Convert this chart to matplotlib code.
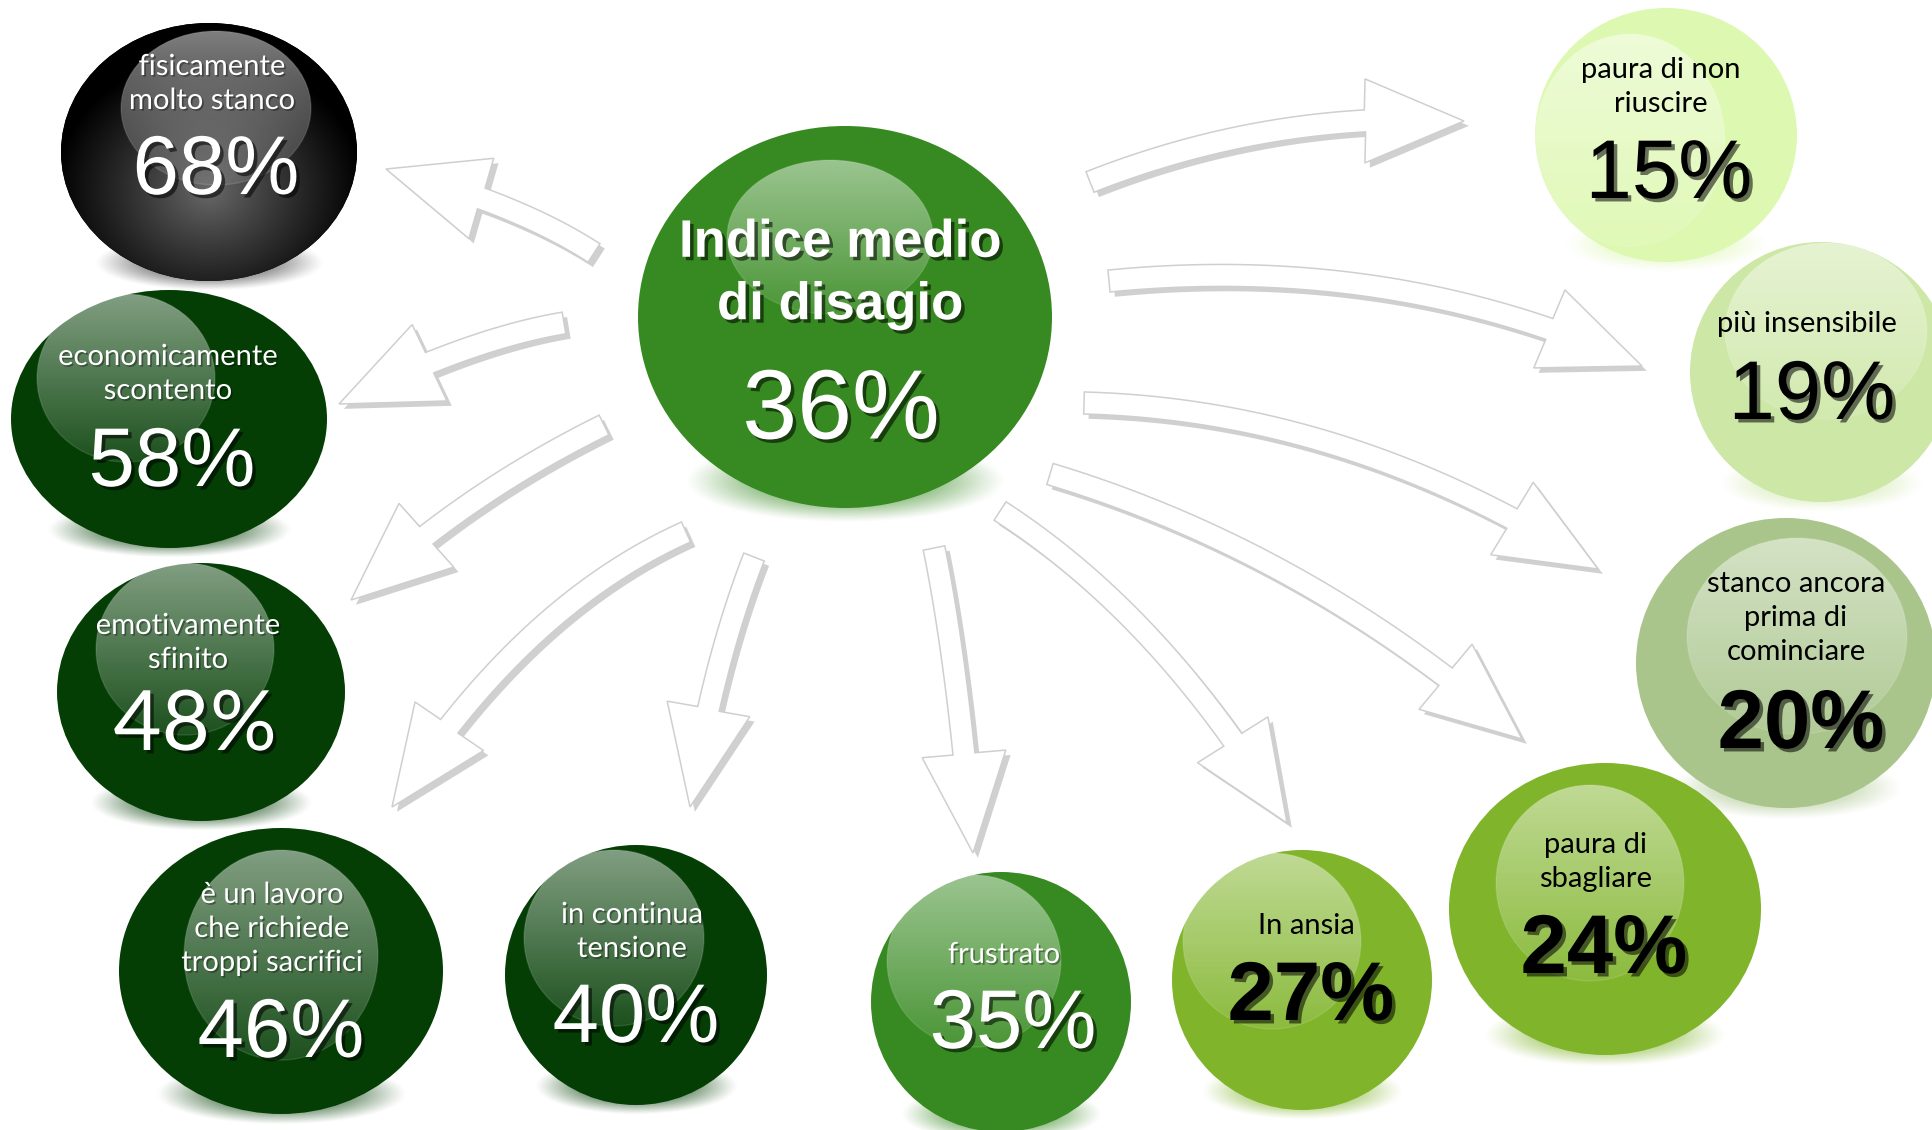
import numpy as np
import matplotlib
matplotlib.use('Agg')
import matplotlib.pyplot as plt
from matplotlib.patches import Ellipse, Polygon
from matplotlib.colors import to_rgb
import matplotlib.patheffects as pe

# --- data ---
center_label = 'Indice medio\ndi disagio'
center_value = 36
labels = ['fisicamente\nmolto stanco', 'economicamente\nscontento', 'emotivamente\nsfinito',
          'è un lavoro\nche richiede\ntroppi sacrifici', 'in continua\ntensione', 'frustrato',
          'In ansia', 'paura di\nsbagliare', 'stanco ancora\nprima di\ncominciare',
          'più insensibile', 'paura di non\nriuscire']
values = [68, 58, 48, 46, 40, 35, 27, 24, 20, 19, 15]

# --- layout (pixel coords, y downwards) ---
bubbles = [(209, 152, 148, 129), (169, 419, 158, 129), (201, 692, 144, 129),
           (281, 971, 162, 143), (636, 975, 131, 130), (1001, 1002, 130, 130),
           (1302, 980, 130, 130), (1605, 909, 156, 146), (1786, 663, 150, 145),
           (1821, 372, 131, 130), (1666, 135, 131, 127)]
highlights = [(216, 108, 95, 77), (126, 378, 89, 84), (185, 649, 89, 86),
              (281, 955, 97, 105), (614, 938, 90, 88), (974, 961, 87, 86),
              (1272, 941, 89, 88), (1590, 883, 94, 98), (1797, 636, 110, 98),
              (1826, 331, 101, 88), (1630, 140, 95, 106)]
label_pos = [(212, 84), (168, 374), (188, 643), (272, 929), (632, 932), (1004, 955),
             (1306, 926), (1596, 862), (1796, 618), (1807, 324), (1661, 87)]
value_pos = [(216, 172), (172, 464), (195, 727), (281, 1035), (636, 1020), (1013, 1026),
             (1311, 998), (1604, 951), (1801, 726), (1812, 397), (1669, 176)]
colors = ['#000000', '#043e05', '#043e05', '#043e05', '#043e05', '#378a21',
          '#80b42a', '#80b42a', '#a9c58b', '#cde7a6', '#ddf8b0']
text_colors = ['white'] * 6 + ['black'] * 5
bold_values = [False] * 6 + [True, True, True, False, False]

center_bubble = (845, 317, 207, 191)
center_hl = (830, 237, 103, 77)
center_color = '#378a21'

# arrows: tail, control, tip
arrows = [((594, 253), (517, 203), (386, 169)),
          ((564, 323), (468, 339), (339, 404)),
          ((604, 425), (460, 496), (351, 600)),
          ((686, 532), (521, 606), (392, 807)),
          ((754, 557), (712, 665), (690, 807)),
          ((934, 548), (958, 665), (973, 853)),
          ((1000, 511), (1164, 617), (1287, 823)),
          ((1050, 474), (1308, 552), (1522, 739)),
          ((1084, 403), (1351, 410), (1598, 569)),
          ((1109, 281), (1396, 253), (1642, 366)),
          ((1090, 182), (1273, 110), (1464, 121))]

W, H = 1932, 1130
fig = plt.figure(figsize=(W / 100, H / 100), dpi=100)
ax = fig.add_axes([0, 0, 1, 1])
ax.axis('off')


def arrow_poly(p0, p1, p2, shaft=22, head_w=84, head_len=100):
    p0, p1, p2 = map(np.array, (p0, p1, p2))
    t = np.linspace(0, 1, 400)[:, None]
    pts = (1 - t) ** 2 * p0 + 2 * (1 - t) * t * p1 + t ** 2 * p2
    s = np.concatenate([[0], np.cumsum(np.hypot(*np.diff(pts, axis=0).T))])
    k = np.searchsorted(s, s[-1] - head_len)
    body = pts[:k + 1]
    d = np.gradient(body, axis=0)
    d /= np.linalg.norm(d, axis=1)[:, None]
    nrm = np.stack([-d[:, 1], d[:, 0]], axis=1)
    left = body + nrm * shaft / 2
    right = body - nrm * shaft / 2
    base = body[-1]
    hd = p2 - base
    hd = hd / np.linalg.norm(hd)
    hn = np.array([-hd[1], hd[0]])
    return np.vstack([left, base + hn * head_w / 2, p2, base - hn * head_w / 2, right[::-1]])


def glow(cx, cy, hw, hh, color, alpha, z):
    yy, xx = np.mgrid[-1:1:80j, -1:1:160j]
    a = np.clip(1 - (xx ** 2 + yy ** 2), 0, 1) ** 1.3 * alpha
    rgba = np.zeros((80, 160, 4))
    rgba[..., :3] = to_rgb(color)
    rgba[..., 3] = a
    ax.imshow(rgba, extent=(cx - hw, cx + hw, cy + hh, cy - hh), origin='upper',
              interpolation='bilinear', aspect='auto', zorder=z)


def bubble(b, hl, color, z, radial=False):
    cx, cy, rx, ry = b
    # soft shadow under the ball
    shadow_col = '#333333' if radial else color
    glow(cx, cy + 0.86 * ry, 0.78 * rx, 0.22 * ry, shadow_col, 0.85, z)
    body = Ellipse((cx, cy), 2 * rx, 2 * ry, facecolor=color, edgecolor='none', zorder=z + 0.1)
    ax.add_patch(body)
    if radial:
        yy, xx = np.mgrid[cy - ry:cy + ry:200j, cx - rx:cx + rx:200j]
        d = np.sqrt(((xx - cx) / rx) ** 2 + ((yy - cy - 0.3 * ry) / ry) ** 2)
        f = np.clip(d / 1.05, 0, 1) ** 0.9
        g0, g1 = np.array(to_rgb('#6a6a6a')), np.array(to_rgb('#000000'))
        rgba = np.ones((200, 200, 4))
        rgba[..., :3] = g0 * (1 - f[..., None]) + g1 * f[..., None]
        im = ax.imshow(rgba, extent=(cx - rx, cx + rx, cy + ry, cy - ry), origin='upper',
                       interpolation='bilinear', aspect='auto', zorder=z + 0.2)
        im.set_clip_path(body)
    hx, hy, hrx, hry = hl
    t = np.linspace(0, 1, 120)[:, None]
    rgba = np.ones((120, 2, 4))
    rgba[..., 3] = 0.5 * (1 - t) + 0.1 * t
    clip = Ellipse((hx, hy), 2 * hrx, 2 * hry, transform=ax.transData)
    im = ax.imshow(rgba, extent=(hx - hrx, hx + hrx, hy + hry, hy - hry), origin='upper',
                   interpolation='bilinear', aspect='auto', zorder=z + 0.3)
    im.set_clip_path(clip)
    ax.add_patch(Ellipse((hx, hy), 2 * hrx, 2 * hry, facecolor='none',
                         edgecolor='white', alpha=0.12, lw=1, zorder=z + 0.31))


# arrows
for tail, ctrl, tip in arrows:
    poly = Polygon(arrow_poly(tail, ctrl, tip), closed=True, facecolor='white',
                   edgecolor='#cfcfcf', lw=1.1, zorder=2, joinstyle='miter')
    poly.set_path_effects([pe.withSimplePatchShadow(offset=(3.5, -3.5), shadow_rgbFace='#666666', alpha=0.3)])
    ax.add_patch(poly)

# bubbles, drawn from top to bottom so lower ones overlap
order = sorted(range(len(values)), key=lambda i: bubbles[i][1])
for rank, i in enumerate(order):
    bubble(bubbles[i], highlights[i], colors[i], 10 + rank, radial=(i == 0))
bubble(center_bubble, center_hl, center_color, 10)

shadow_w = [pe.withSimplePatchShadow(offset=(2.5, -2.5), shadow_rgbFace='black', alpha=0.55)]
shadow_s = [pe.withSimplePatchShadow(offset=(1.2, -1.2), shadow_rgbFace='black', alpha=0.35)]

for i in range(len(values)):
    tc = text_colors[i]
    ax.text(*label_pos[i], labels[i], ha='center', va='center', fontsize=21, family='Lato',
            color=tc, linespacing=1.38, zorder=100, path_effects=shadow_s if tc == 'white' else None)
    fam = 'Lato' if values[i] == 48 else 'Liberation Sans'
    ax.text(*value_pos[i], f'{values[i]}%', ha='center', va='center', fontsize=60, family=fam,
            fontweight='bold' if bold_values[i] else 'normal', color=tc, zorder=100,
            path_effects=shadow_w)

ax.text(840, 274, center_label, ha='center', va='center', fontsize=38, family='Liberation Sans',
        fontweight='bold', color='white', linespacing=1.32, zorder=100, path_effects=shadow_w)
ax.text(841, 413, f'{center_value}%', ha='center', va='center', fontsize=71,
        family='Liberation Sans', color='white', zorder=100, path_effects=shadow_w)

ax.set_xlim(0, W)
ax.set_ylim(H, 0)
fig.savefig('out.png', dpi=100, facecolor='white')
